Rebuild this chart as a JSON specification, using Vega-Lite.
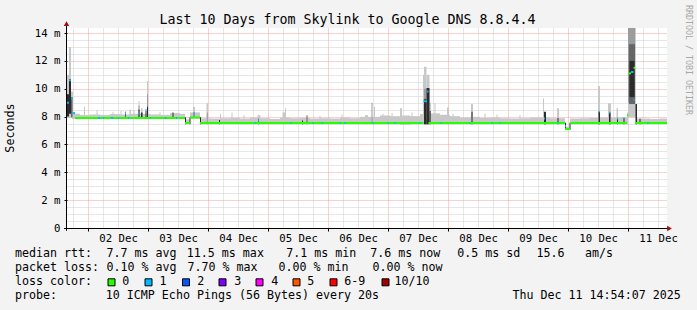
{
  "$schema": "https://vega.github.io/schema/vega-lite/v6.json",
  "width": 600,
  "height": 200,
  "autosize": {"type": "none"},
  "padding": {"left": 67, "top": 28, "right": 30, "bottom": 82},
  "background": "#f3f3f3",
  "config": {
    "view": {"fill": "white", "stroke": null},
    "font": "DejaVu Sans Mono",
    "axis": {"labelFont": "DejaVu Sans Mono", "titleFont": "DejaVu Sans Mono", "labelColor": "#000", "titleColor": "#000"}
  },
  "title": {
    "text": "Last 10 Days from Skylink to Google DNS 8.8.4.4",
    "font": "DejaVu Sans Mono",
    "fontSize": 13.3,
    "fontWeight": "normal",
    "color": "#000",
    "anchor": "middle",
    "frame": "group",
    "dx": -19.5,
    "offset": -32,
    "baseline": "alphabetic"
  },
  "datasets": {
    "smoke": [
      {"t0":17.6,"t1":20.8,"lo":7.82,"hi":8.2,"shade":"L"},
      {"t0":20.8,"t1":24.8,"lo":7.82,"hi":8.12,"shade":"L"},
      {"t0":24.8,"t1":28.8,"lo":7.82,"hi":8.15,"shade":"L"},
      {"t0":28.8,"t1":32.8,"lo":7.82,"hi":8.12,"shade":"L"},
      {"t0":32.8,"t1":36.8,"lo":7.82,"hi":8.18,"shade":"L"},
      {"t0":36.8,"t1":40.8,"lo":7.82,"hi":8.15,"shade":"L"},
      {"t0":40.8,"t1":44.8,"lo":7.82,"hi":8.2,"shade":"L"},
      {"t0":44.8,"t1":48.8,"lo":7.82,"hi":8.2,"shade":"L"},
      {"t0":48.8,"t1":52.8,"lo":7.82,"hi":8.15,"shade":"L"},
      {"t0":52.8,"t1":56.8,"lo":7.82,"hi":8.12,"shade":"L"},
      {"t0":56.8,"t1":60.8,"lo":7.82,"hi":8.25,"shade":"L"},
      {"t0":60.8,"t1":62.8,"lo":7.82,"hi":8.2,"shade":"L"},
      {"t0":62.8,"t1":64.8,"lo":7.45,"hi":7.8,"shade":"L"},
      {"t0":64.8,"t1":68.8,"lo":7.85,"hi":8.3,"shade":"L"},
      {"t0":68.8,"t1":72.8,"lo":7.45,"hi":7.88,"shade":"L"},
      {"t0":72.8,"t1":76.8,"lo":7.45,"hi":7.86,"shade":"L"},
      {"t0":76.8,"t1":80.8,"lo":7.45,"hi":7.88,"shade":"L"},
      {"t0":80.8,"t1":84.8,"lo":7.45,"hi":7.9,"shade":"L"},
      {"t0":84.8,"t1":88.8,"lo":7.45,"hi":7.86,"shade":"L"},
      {"t0":88.8,"t1":92.8,"lo":7.45,"hi":7.93,"shade":"L"},
      {"t0":92.8,"t1":96.8,"lo":7.45,"hi":7.88,"shade":"L"},
      {"t0":96.8,"t1":100.8,"lo":7.45,"hi":7.83,"shade":"L"},
      {"t0":100.8,"t1":104.8,"lo":7.45,"hi":7.93,"shade":"L"},
      {"t0":104.8,"t1":108.8,"lo":7.45,"hi":7.88,"shade":"L"},
      {"t0":108.8,"t1":112.8,"lo":7.45,"hi":7.9,"shade":"L"},
      {"t0":112.8,"t1":116.8,"lo":7.45,"hi":7.86,"shade":"L"},
      {"t0":116.8,"t1":120.8,"lo":7.45,"hi":7.88,"shade":"L"},
      {"t0":120.8,"t1":124.8,"lo":7.45,"hi":7.86,"shade":"L"},
      {"t0":124.8,"t1":128.8,"lo":7.45,"hi":7.93,"shade":"L"},
      {"t0":128.8,"t1":132.8,"lo":7.45,"hi":7.88,"shade":"L"},
      {"t0":132.8,"t1":136.8,"lo":7.45,"hi":7.98,"shade":"L"},
      {"t0":136.8,"t1":140.8,"lo":7.45,"hi":7.98,"shade":"L"},
      {"t0":140.8,"t1":144.8,"lo":7.45,"hi":8.08,"shade":"L"},
      {"t0":144.8,"t1":148.8,"lo":7.45,"hi":8.03,"shade":"L"},
      {"t0":148.8,"t1":152.8,"lo":7.4,"hi":8.08,"shade":"L"},
      {"t0":152.8,"t1":156.8,"lo":7.45,"hi":8.03,"shade":"L"},
      {"t0":156.8,"t1":160.8,"lo":7.45,"hi":8.18,"shade":"L"},
      {"t0":160.8,"t1":164.8,"lo":7.45,"hi":8.23,"shade":"L"},
      {"t0":164.8,"t1":168.8,"lo":7.45,"hi":8.13,"shade":"L"},
      {"t0":168.8,"t1":172.8,"lo":7.45,"hi":8.03,"shade":"L"},
      {"t0":172.8,"t1":176.8,"lo":7.45,"hi":7.93,"shade":"L"},
      {"t0":176.8,"t1":180.8,"lo":7.45,"hi":7.98,"shade":"L"},
      {"t0":180.8,"t1":184.8,"lo":7.45,"hi":7.9,"shade":"L"},
      {"t0":184.8,"t1":188.8,"lo":7.45,"hi":7.93,"shade":"L"},
      {"t0":188.8,"t1":192.8,"lo":7.45,"hi":7.88,"shade":"L"},
      {"t0":192.8,"t1":196.8,"lo":7.45,"hi":7.86,"shade":"L"},
      {"t0":196.8,"t1":200.8,"lo":7.45,"hi":7.88,"shade":"L"},
      {"t0":200.8,"t1":204.8,"lo":7.45,"hi":7.93,"shade":"L"},
      {"t0":204.8,"t1":208.8,"lo":7.45,"hi":7.93,"shade":"L"},
      {"t0":208.8,"t1":212.8,"lo":7.45,"hi":7.88,"shade":"L"},
      {"t0":212.8,"t1":214.8,"lo":7.45,"hi":7.88,"shade":"L"},
      {"t0":214.8,"t1":216.8,"lo":7.02,"hi":7.28,"shade":"L"},
      {"t0":216.8,"t1":220.8,"lo":7.45,"hi":7.86,"shade":"L"},
      {"t0":220.8,"t1":224.8,"lo":7.45,"hi":7.88,"shade":"L"},
      {"t0":224.8,"t1":228.8,"lo":7.45,"hi":7.9,"shade":"L"},
      {"t0":228.8,"t1":232.8,"lo":7.45,"hi":7.93,"shade":"L"},
      {"t0":232.8,"t1":236.8,"lo":7.45,"hi":7.93,"shade":"L"},
      {"t0":236.8,"t1":240.0,"lo":7.45,"hi":7.96,"shade":"L"},
      {"t0":243.2,"t1":248.8,"lo":7.45,"hi":7.86,"shade":"L"},
      {"t0":248.8,"t1":252.8,"lo":7.45,"hi":7.83,"shade":"L"},
      {"t0":252.8,"t1":255.6,"lo":7.45,"hi":7.86,"shade":"L"},
      {"t0":15.6,"t1":16.4,"lo":7.9,"hi":11.0,"shade":"L"},
      {"t0":16.4,"t1":17.2,"lo":7.9,"hi":13.0,"shade":"L"},
      {"t0":17.2,"t1":18.0,"lo":7.9,"hi":9.8,"shade":"L"},
      {"t0":22.4,"t1":22.8,"lo":7.9,"hi":8.7,"shade":"L"},
      {"t0":27.4,"t1":27.8,"lo":7.9,"hi":8.47,"shade":"L"},
      {"t0":33.8,"t1":34.2,"lo":7.9,"hi":8.35,"shade":"L"},
      {"t0":37.0,"t1":37.4,"lo":7.9,"hi":8.4,"shade":"L"},
      {"t0":38.8,"t1":39.2,"lo":7.9,"hi":8.4,"shade":"L"},
      {"t0":40.6,"t1":41.2,"lo":7.9,"hi":8.5,"shade":"L"},
      {"t0":42.2,"t1":42.6,"lo":7.9,"hi":8.45,"shade":"L"},
      {"t0":44.2,"t1":44.6,"lo":7.9,"hi":9.1,"shade":"L"},
      {"t0":45.2,"t1":45.8,"lo":7.9,"hi":8.6,"shade":"L"},
      {"t0":47.6,"t1":48.0,"lo":7.9,"hi":10.55,"shade":"L"},
      {"t0":52.6,"t1":53.0,"lo":7.9,"hi":8.3,"shade":"L"},
      {"t0":66.0,"t1":66.8,"lo":7.9,"hi":8.7,"shade":"L"},
      {"t0":71.4,"t1":72.0,"lo":7.45,"hi":8.95,"shade":"L"},
      {"t0":76.8,"t1":77.2,"lo":7.45,"hi":8.2,"shade":"L"},
      {"t0":81.4,"t1":81.8,"lo":7.45,"hi":8.3,"shade":"L"},
      {"t0":86.2,"t1":86.6,"lo":7.45,"hi":8.1,"shade":"L"},
      {"t0":91.8,"t1":93.0,"lo":7.45,"hi":8.1,"shade":"L"},
      {"t0":101.8,"t1":102.8,"lo":7.45,"hi":8.3,"shade":"L"},
      {"t0":102.8,"t1":103.2,"lo":7.45,"hi":8.6,"shade":"L"},
      {"t0":116.6,"t1":117.0,"lo":7.45,"hi":8.05,"shade":"L"},
      {"t0":125.4,"t1":125.8,"lo":7.45,"hi":8.15,"shade":"L"},
      {"t0":134.8,"t1":136.0,"lo":7.45,"hi":8.1,"shade":"L"},
      {"t0":138.4,"t1":138.8,"lo":7.45,"hi":8.7,"shade":"L"},
      {"t0":141.8,"t1":142.2,"lo":7.45,"hi":8.2,"shade":"L"},
      {"t0":145.4,"t1":145.8,"lo":7.45,"hi":8.26,"shade":"L"},
      {"t0":148.8,"t1":149.6,"lo":7.45,"hi":8.6,"shade":"L"},
      {"t0":153.4,"t1":153.8,"lo":7.45,"hi":8.3,"shade":"L"},
      {"t0":158.0,"t1":158.4,"lo":7.45,"hi":11.0,"shade":"L"},
      {"t0":158.4,"t1":159.4,"lo":7.45,"hi":11.58,"shade":"L"},
      {"t0":159.4,"t1":160.6,"lo":7.45,"hi":11.0,"shade":"L"},
      {"t0":160.6,"t1":161.2,"lo":7.45,"hi":9.0,"shade":"L"},
      {"t0":162.6,"t1":163.0,"lo":7.45,"hi":8.97,"shade":"L"},
      {"t0":167.6,"t1":168.4,"lo":7.45,"hi":8.65,"shade":"L"},
      {"t0":169.8,"t1":170.2,"lo":7.45,"hi":8.2,"shade":"L"},
      {"t0":177.2,"t1":178.0,"lo":7.45,"hi":8.9,"shade":"L"},
      {"t0":182.6,"t1":183.0,"lo":7.45,"hi":8.2,"shade":"L"},
      {"t0":187.4,"t1":187.8,"lo":7.45,"hi":8.15,"shade":"L"},
      {"t0":196.6,"t1":197.0,"lo":7.45,"hi":8.1,"shade":"L"},
      {"t0":206.0,"t1":206.4,"lo":7.45,"hi":9.3,"shade":"L"},
      {"t0":211.6,"t1":212.4,"lo":7.45,"hi":8.6,"shade":"L"},
      {"t0":228.0,"t1":228.8,"lo":7.45,"hi":10.2,"shade":"L"},
      {"t0":232.0,"t1":233.2,"lo":7.45,"hi":8.95,"shade":"L"},
      {"t0":235.4,"t1":236.0,"lo":7.45,"hi":8.6,"shade":"L"},
      {"t0":237.6,"t1":238.8,"lo":7.45,"hi":7.95,"shade":"L"},
      {"t0":239.6,"t1":240.0,"lo":7.45,"hi":8.3,"shade":"L"},
      {"t0":240.0,"t1":243.2,"lo":7.95,"hi":9.0,"shade":"L"},
      {"t0":240.0,"t1":243.0,"lo":9.0,"hi":14.6,"shade":"M"},
      {"t0":71.52,"t1":71.92,"lo":7.45,"hi":8.3,"shade":"M"},
      {"t0":137.4,"t1":137.8,"lo":7.45,"hi":9.0,"shade":"M"},
      {"t0":158.4,"t1":159.4,"lo":7.45,"hi":10.0,"shade":"M"},
      {"t0":44.2,"t1":44.6,"lo":7.9,"hi":8.8,"shade":"M"},
      {"t0":47.6,"t1":48.0,"lo":7.9,"hi":9.6,"shade":"M"},
      {"t0":66.2,"t1":66.6,"lo":7.95,"hi":8.3,"shade":"D"},
      {"t0":38.8,"t1":39.2,"lo":7.9,"hi":8.3,"shade":"D"},
      {"t0":92.0,"t1":92.4,"lo":7.45,"hi":7.85,"shade":"D"},
      {"t0":111.4,"t1":111.8,"lo":7.45,"hi":8.1,"shade":"D"},
      {"t0":160.6,"t1":161.2,"lo":7.45,"hi":8.4,"shade":"D"},
      {"t0":17.2,"t1":17.8,"lo":7.95,"hi":9.4,"shade":"D"},
      {"t0":240.4,"t1":242.8,"lo":8.9,"hi":13.2,"shade":"D"},
      {"t0":15.6,"t1":16.4,"lo":8.0,"hi":9.6,"shade":"K"},
      {"t0":16.4,"t1":17.2,"lo":8.2,"hi":10.7,"shade":"K"},
      {"t0":44.2,"t1":44.6,"lo":7.9,"hi":8.5,"shade":"K"},
      {"t0":45.2,"t1":45.8,"lo":7.9,"hi":8.3,"shade":"K"},
      {"t0":47.0,"t1":47.4,"lo":7.9,"hi":8.4,"shade":"K"},
      {"t0":47.6,"t1":48.0,"lo":7.9,"hi":8.7,"shade":"K"},
      {"t0":57.8,"t1":58.2,"lo":7.9,"hi":8.3,"shade":"K"},
      {"t0":62.8,"t1":63.2,"lo":7.45,"hi":7.95,"shade":"K"},
      {"t0":64.6,"t1":65.0,"lo":7.45,"hi":7.95,"shade":"K"},
      {"t0":68.8,"t1":69.2,"lo":7.45,"hi":7.95,"shade":"K"},
      {"t0":76.4,"t1":76.8,"lo":7.45,"hi":7.75,"shade":"K"},
      {"t0":109.6,"t1":110.0,"lo":7.45,"hi":7.72,"shade":"K"},
      {"t0":158.4,"t1":159.4,"lo":7.45,"hi":9.24,"shade":"K"},
      {"t0":159.4,"t1":160.6,"lo":7.45,"hi":10.05,"shade":"K"},
      {"t0":177.4,"t1":177.8,"lo":7.45,"hi":8.35,"shade":"K"},
      {"t0":206.4,"t1":207.2,"lo":7.45,"hi":8.35,"shade":"K"},
      {"t0":211.8,"t1":212.2,"lo":7.45,"hi":7.9,"shade":"K"},
      {"t0":214.8,"t1":215.2,"lo":7.05,"hi":7.55,"shade":"K"},
      {"t0":216.6,"t1":217.0,"lo":7.05,"hi":7.55,"shade":"K"},
      {"t0":228.2,"t1":228.8,"lo":7.45,"hi":8.35,"shade":"K"},
      {"t0":232.4,"t1":233.0,"lo":7.45,"hi":8.3,"shade":"K"},
      {"t0":235.6,"t1":236.0,"lo":7.45,"hi":7.9,"shade":"K"},
      {"t0":238.2,"t1":238.6,"lo":7.45,"hi":7.9,"shade":"K"},
      {"t0":240.6,"t1":242.6,"lo":9.4,"hi":12.0,"shade":"K"},
      {"t0":243.0,"t1":243.6,"lo":7.45,"hi":8.9,"shade":"K"},
      {"t0":244.6,"t1":245.0,"lo":7.45,"hi":7.85,"shade":"K"}
    ],
    "median": [
      {"t0":15.6,"t1":16.4,"m":9.0,"loss":"1"},
      {"t0":16.4,"t1":17.2,"m":10.6,"loss":"1"},
      {"t0":17.2,"t1":17.8,"m":9.3,"loss":"1"},
      {"t0":17.8,"t1":18.8,"m":8.25,"loss":"1"},
      {"t0":18.8,"t1":62.8,"m":7.9,"loss":"0"},
      {"t0":62.8,"t1":64.8,"m":7.54,"loss":"0"},
      {"t0":64.8,"t1":68.8,"m":7.93,"loss":"0"},
      {"t0":68.8,"t1":158.2,"m":7.54,"loss":"0"},
      {"t0":158.2,"t1":159.6,"m":9.1,"loss":"1"},
      {"t0":159.6,"t1":160.2,"m":9.8,"loss":"1"},
      {"t0":160.2,"t1":214.8,"m":7.54,"loss":"0"},
      {"t0":214.8,"t1":216.8,"m":7.11,"loss":"0"},
      {"t0":216.8,"t1":239.6,"m":7.54,"loss":"0"},
      {"t0":239.6,"t1":240.2,"m":8.1,"loss":"0"},
      {"t0":240.2,"t1":241.2,"m":11.1,"loss":"0"},
      {"t0":241.2,"t1":242.2,"m":11.2,"loss":"1"},
      {"t0":242.2,"t1":242.8,"m":11.5,"loss":"0"},
      {"t0":242.8,"t1":255.6,"m":7.54,"loss":"0"},
      {"t0":28.0,"t1":28.8,"m":7.9,"loss":"1"},
      {"t0":30.0,"t1":30.4,"m":7.9,"loss":"1"},
      {"t0":33.2,"t1":34.0,"m":7.9,"loss":"1"},
      {"t0":36.0,"t1":36.4,"m":7.9,"loss":"1"},
      {"t0":38.8,"t1":39.2,"m":8.26,"loss":"1"},
      {"t0":40.0,"t1":40.4,"m":7.9,"loss":"1"},
      {"t0":44.2,"t1":44.6,"m":8.26,"loss":"1"},
      {"t0":47.0,"t1":47.4,"m":8.47,"loss":"1"},
      {"t0":48.8,"t1":49.2,"m":7.9,"loss":"1"},
      {"t0":54.8,"t1":55.2,"m":7.9,"loss":"1"},
      {"t0":59.2,"t1":59.6,"m":7.9,"loss":"1"},
      {"t0":66.2,"t1":66.6,"m":8.26,"loss":"1"},
      {"t0":90.6,"t1":91.0,"m":7.54,"loss":"1"},
      {"t0":92.0,"t1":92.4,"m":7.72,"loss":"1"},
      {"t0":105.0,"t1":105.4,"m":7.54,"loss":"1"},
      {"t0":113.8,"t1":114.2,"m":7.54,"loss":"1"},
      {"t0":117.4,"t1":117.8,"m":7.54,"loss":"1"},
      {"t0":124.6,"t1":125.0,"m":7.54,"loss":"1"},
      {"t0":126.6,"t1":127.0,"m":7.54,"loss":"1"},
      {"t0":137.8,"t1":138.2,"m":7.54,"loss":"1"},
      {"t0":143.8,"t1":144.2,"m":7.54,"loss":"1"},
      {"t0":146.6,"t1":147.0,"m":7.54,"loss":"1"},
      {"t0":156.6,"t1":157.0,"m":7.54,"loss":"1"},
      {"t0":165.0,"t1":165.4,"m":7.54,"loss":"1"},
      {"t0":176.6,"t1":177.0,"m":7.54,"loss":"1"},
      {"t0":185.4,"t1":185.8,"m":7.54,"loss":"1"},
      {"t0":188.6,"t1":189.0,"m":7.54,"loss":"1"},
      {"t0":206.4,"t1":206.8,"m":7.87,"loss":"1"},
      {"t0":211.8,"t1":212.2,"m":7.54,"loss":"1"},
      {"t0":214.8,"t1":215.2,"m":7.3,"loss":"1"},
      {"t0":228.2,"t1":228.6,"m":8.35,"loss":"1"},
      {"t0":232.4,"t1":232.8,"m":8.3,"loss":"1"},
      {"t0":235.6,"t1":236.0,"m":7.87,"loss":"1"},
      {"t0":238.2,"t1":238.6,"m":7.87,"loss":"1"},
      {"t0":242.2,"t1":242.6,"m":9.2,"loss":"1"},
      {"t0":247.8,"t1":248.2,"m":7.54,"loss":"1"}
    ],
    "footer": [
      {"hx":-5.2,"ms":-1.89,"txt":"median rtt:"},
      {"hx":31.4,"ms":-1.89,"txt":"7.7 ms avg"},
      {"hx":63.52,"ms":-1.89,"txt":"11.5 ms max"},
      {"hx":103.28,"ms":-1.89,"txt":"7.1 ms min"},
      {"hx":136.88,"ms":-1.89,"txt":"7.6 ms now"},
      {"hx":171.68,"ms":-1.89,"txt":"0.5 ms sd"},
      {"hx":203.4,"ms":-1.89,"txt":"15.6"},
      {"hx":222.8,"ms":-1.89,"txt":"am/s"},
      {"hx":-5.2,"ms":-2.89,"txt":"packet loss:"},
      {"hx":31.4,"ms":-2.89,"txt":"0.10 % avg"},
      {"hx":63.8,"ms":-2.89,"txt":"7.70 % max"},
      {"hx":100.2,"ms":-2.89,"txt":"0.00 % min"},
      {"hx":137.8,"ms":-2.89,"txt":"0.00 % now"},
      {"hx":-5.2,"ms":-3.9,"txt":"loss color:"},
      {"hx":37.68,"ms":-3.9,"txt":"0"},
      {"hx":52.6,"ms":-3.9,"txt":"1"},
      {"hx":67.68,"ms":-3.9,"txt":"2"},
      {"hx":82.48,"ms":-3.9,"txt":"3"},
      {"hx":97.28,"ms":-3.9,"txt":"4"},
      {"hx":111.68,"ms":-3.9,"txt":"5"},
      {"hx":126.48,"ms":-3.9,"txt":"6-9"},
      {"hx":146.6,"ms":-3.9,"txt":"10/10"},
      {"hx":-5.2,"ms":-4.86,"txt":"probe:"},
      {"hx":31.12,"ms":-4.86,"txt":"10 ICMP Echo Pings (56 Bytes) every 20s"}
    ],
    "swatches": [
      {"hx":33.4,"ms":-3.9,"loss":"0"},
      {"hx":48.2,"ms":-3.9,"loss":"1"},
      {"hx":63.2,"ms":-3.9,"loss":"2"},
      {"hx":77.8,"ms":-3.9,"loss":"3"},
      {"hx":92.6,"ms":-3.9,"loss":"4"},
      {"hx":107.4,"ms":-3.9,"loss":"5"},
      {"hx":122.2,"ms":-3.9,"loss":"6-9"},
      {"hx":143.0,"ms":-3.9,"loss":"10/10"}
    ]
  },
  "resolve": {"axis": {"x": "independent", "y": "independent"}},
  "layer": [
    {
      "data": {"name": "smoke"},
      "mark": {"type": "rect", "clip": true},
      "encoding": {
        "x": {"field": "t0", "type": "quantitative", "scale": {"domain": [15.6, 255.6], "nice": false, "zero": false},
          "axis": {"orient": "bottom", "values": [18,24,30,36,42,48,54,60,66,72,78,84,90,96,102,108,114,120,126,132,138,144,150,156,162,168,174,180,186,192,198,204,210,216,222,228,234,240,246,252],
            "grid": true, "gridDash": [1,1],
            "gridColor": {"condition": {"test": "datum.value % 24 === 0", "value": "#f6a0a0"}, "value": "#cfcfcf"},
            "labels": false, "ticks": true, "tickSize": 3, "tickColor": "#000",
            "tickOpacity": {"condition": {"test": "datum.value % 24 === 0", "value": 1}, "value": 0},
            "domain": false, "title": null}},
        "x2": {"field": "t1"},
        "y": {"field": "lo", "type": "quantitative", "scale": {"domain": [0, 14.36], "nice": false, "zero": false}, "axis": null},
        "y2": {"field": "hi"},
        "fill": {"field": "shade", "type": "nominal", "scale": {"domain": ["L","M","D","K"], "range": ["#c8c8c8","#9c9c9c","#666666","#2b2b2b"]}, "legend": null}
      }
    },
    {
      "data": {"name": "median"},
      "mark": {"type": "rule", "strokeWidth": 2, "clip": true},
      "encoding": {
        "x": {"field": "t0", "type": "quantitative", "scale": {"domain": [15.6, 255.6], "nice": false, "zero": false}, "axis": null},
        "x2": {"field": "t1"},
        "y": {"field": "m", "type": "quantitative", "scale": {"domain": [0, 14.36], "nice": false, "zero": false},
          "axis": {"orient": "left", "values": [0,0.5,1,1.5,2,2.5,3,3.5,4,4.5,5,5.5,6,6.5,7,7.5,8,8.5,9,9.5,10,10.5,11,11.5,12,12.5,13,13.5,14],
            "grid": true, "gridDash": [1,1],
            "gridColor": {"condition": {"test": "datum.value % 2 === 0", "value": "#f6a0a0"}, "value": "#cfcfcf"},
            "ticks": true, "tickSize": 3, "tickColor": "#000",
            "tickOpacity": {"condition": {"test": "datum.value % 2 === 0", "value": 1}, "value": 0},
            "domain": false,
            "labelExpr": "datum.value % 2 === 0 ? (datum.value == 0 ? '0' : datum.value + ' m') : ''", "labelFontSize": 10.7, "labelPadding": 4, "labelOverlap": false,
            "title": "Seconds", "titleFontSize": 11.7, "titleFontWeight": "normal", "titleX": -57.3, "titleY": 99.5, "titleAngle": -90, "titleAlign": "center", "titleBaseline": "middle"}},
        "color": {"field": "loss", "type": "nominal", "scale": {"domain": ["0","1","2","3","4","5","6-9","10/10"], "range": ["#26ff00","#00b8ff","#0059ff","#7e00ff","#ff00ff","#ff5500","#ff0000","#a00000"]}, "legend": null}
      }
    },
    {
      "data": {"name": "footer"},
      "mark": {"type": "text", "align": "left", "baseline": "middle", "font": "DejaVu Sans Mono", "fontSize": 11.65, "color": "#000"},
      "encoding": {
        "x": {"field": "hx", "type": "quantitative", "scale": {"domain": [15.6, 255.6], "nice": false, "zero": false},
          "axis": {"orient": "bottom", "values": [36,60,84,108,132,156,180,204,228,252], "grid": false, "ticks": false, "domain": false, "title": null,
            "labelExpr": "(floor(datum.value/24 + 0.5) < 10 ? '0' : '') + floor(datum.value/24 + 0.5) + ' Dec'",
            "labelFontSize": 10.7, "labelPadding": 5, "labelFlush": false, "labelOverlap": false}},
        "y": {"field": "ms", "type": "quantitative", "scale": {"domain": [0, 14.36], "nice": false, "zero": false}, "axis": null},
        "text": {"field": "txt"}
      }
    },
    {
      "data": {"values": [{"hx": 261.08, "ms": -4.86, "txt": "Thu Dec 11 14:54:07 2025"}]},
      "mark": {"type": "text", "align": "right", "baseline": "middle", "font": "DejaVu Sans Mono", "fontSize": 11.65, "color": "#000"},
      "encoding": {
        "x": {"field": "hx", "type": "quantitative", "axis": null},
        "y": {"field": "ms", "type": "quantitative", "axis": null},
        "text": {"field": "txt"}
      }
    },
    {
      "data": {"values": [{"hx": 263.8, "ms": 16.01, "txt": "RRDTOOL / TOBI OETIKER"}]},
      "mark": {"type": "text", "align": "left", "baseline": "middle", "angle": 90, "font": "DejaVu Sans Mono", "fontSize": 8.3, "color": "#a8a8a8"},
      "encoding": {
        "x": {"field": "hx", "type": "quantitative", "axis": null},
        "y": {"field": "ms", "type": "quantitative", "axis": null},
        "text": {"field": "txt"}
      }
    },
    {
      "data": {"name": "swatches"},
      "mark": {"type": "point", "shape": "square", "filled": true, "size": 49, "stroke": "#000", "strokeWidth": 1, "opacity": 1},
      "encoding": {
        "x": {"field": "hx", "type": "quantitative", "axis": null},
        "y": {"field": "ms", "type": "quantitative", "axis": null},
        "color": {"field": "loss", "type": "nominal", "legend": null}
      }
    },
    {
      "data": {"values": [{}]},
      "mark": {"type": "rule", "color": "#000", "strokeWidth": 1},
      "encoding": {
        "x": {"datum": 15.4, "type": "quantitative", "axis": null},
        "y": {"datum": -0.2, "type": "quantitative", "axis": null},
        "y2": {"datum": 14.62}
      }
    },
    {
      "data": {"values": [{}]},
      "mark": {"type": "rule", "color": "#000", "strokeWidth": 1},
      "encoding": {
        "x": {"datum": 14.4, "type": "quantitative", "axis": null},
        "x2": {"datum": 256.4},
        "y": {"datum": -0.036, "type": "quantitative", "axis": null}
      }
    },
    {
      "data": {"values": [{}]},
      "mark": {"type": "point", "shape": "triangle-up", "filled": true, "size": 30, "color": "#a01010", "opacity": 1},
      "encoding": {
        "x": {"datum": 15.4, "type": "quantitative", "axis": null},
        "y": {"datum": 14.68, "type": "quantitative", "axis": null}
      }
    },
    {
      "data": {"values": [{}]},
      "mark": {"type": "point", "shape": "triangle-right", "filled": true, "size": 30, "color": "#a01010", "opacity": 1},
      "encoding": {
        "x": {"datum": 256.6, "type": "quantitative", "axis": null},
        "y": {"datum": -0.036, "type": "quantitative", "axis": null}
      }
    }
  ]
}
